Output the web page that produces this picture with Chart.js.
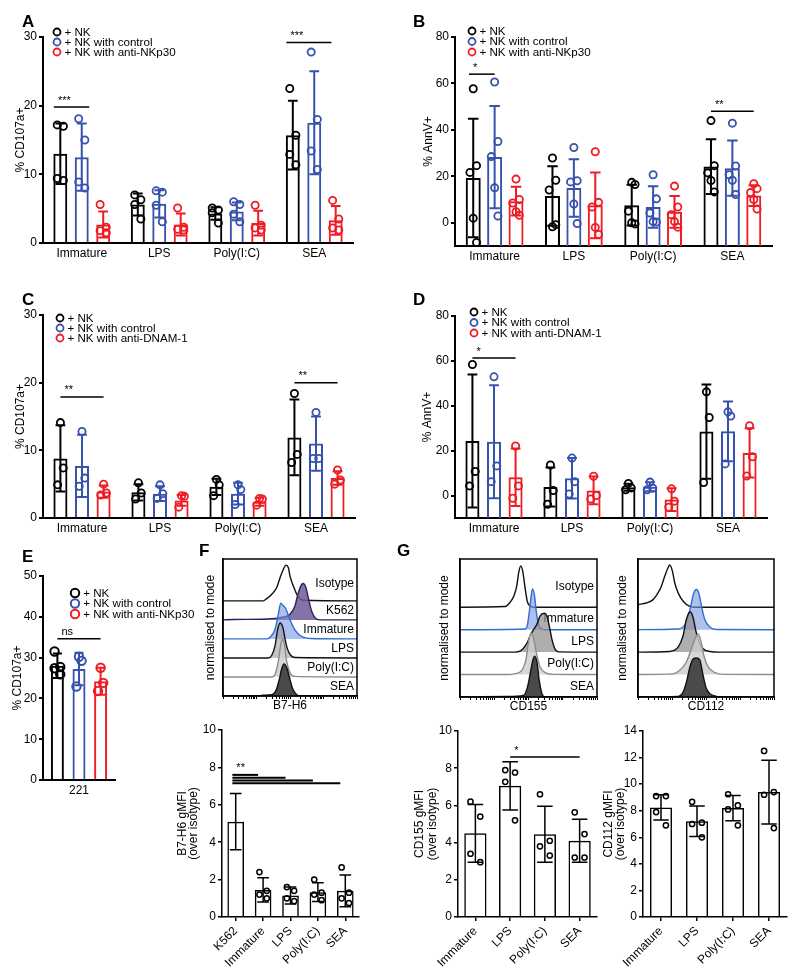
<!DOCTYPE html>
<html>
<head>
<meta charset="utf-8">
<script src="https://cdn.jsdelivr.net/npm/chart.js@4.4.1/dist/chart.umd.min.js"></script>
<style>
  body { margin: 0; background: #fff; }
  #fig { position: relative; width: 800px; height: 978px; overflow: hidden; font-family: "Liberation Sans", Arial, sans-serif; }
  #fig canvas { position: absolute; }
  .lbl { position: absolute; z-index: 2; font-weight: bold; font-size: 17px; line-height: 17px; }
</style>
</head>
<body>
<div id="fig">
  <canvas id="cA"></canvas>
  <canvas id="cB"></canvas>
  <canvas id="cC"></canvas>
  <canvas id="cD"></canvas>
  <canvas id="cE"></canvas>
  <canvas id="cFh"></canvas>
  <canvas id="cFb"></canvas>
  <canvas id="cG1h"></canvas>
  <canvas id="cG2h"></canvas>
  <canvas id="cG1b"></canvas>
  <canvas id="cG2b"></canvas>
  <div class="lbl" style="left:22px;top:13px">A</div>
  <div class="lbl" style="left:413px;top:13px">B</div>
  <div class="lbl" style="left:22px;top:291px">C</div>
  <div class="lbl" style="left:413px;top:291px">D</div>
  <div class="lbl" style="left:22px;top:548px">E</div>
  <div class="lbl" style="left:199px;top:542px">F</div>
  <div class="lbl" style="left:397px;top:542px">G</div>
</div>
<script>
// ---- data ----
const groups = ['Immature', 'LPS', 'Poly(I:C)', 'SEA'];
const nkp30Series = ['+ NK', '+ NK with control', '+ NK with anti-NKp30'];
const dnamSeries = ['+ NK', '+ NK with control', '+ NK with anti-DNAM-1'];
const seriesColors = ['#000000', '#3652ad', '#ee1c25'];

// A: % CD107a+ (anti-NKp30)
const aTicks = [0, 10, 20, 30];
const aMean = [[13.0, 5.6, 4.3, 15.7], [12.5, 5.7, 4.6, 17.5], [2.7, 2.7, 2.9, 3.3]];
const aSd = [[4.4, 1.6, 0.9, 5.0], [4.9, 2.0, 1.3, 7.5], [1.9, 1.6, 1.8, 2.1]];
const aPts = [
  [[17.2, 17.0, 9.4, 9.1], [7.0, 6.3, 5.6, 3.5], [5.1, 4.8, 4.4, 2.9], [22.5, 15.7, 12.9, 11.4]],
  [[18.1, 15.0, 8.9, 8.0], [7.6, 7.4, 5.5, 3.1], [6.0, 5.6, 4.2, 3.1], [27.8, 18.0, 13.4, 10.7]],
  [[5.6, 2.3, 1.8, 1.5], [5.1, 2.3, 2.0, 1.9], [5.5, 2.6, 2.2, 1.9], [6.2, 3.5, 2.2, 1.9]]
];
const aSig = [{ c1: 0, a1: -0.3, c2: 0, a2: 1.35, y: 19.8, text: '***' }, { c1: 3, a1: -0.3, c2: 3, a2: 1.8, y: 29.2, text: '***' }];

// B: % AnnV+ (anti-NKp30)
const bTicks = [0, 20, 40, 60, 80];
const bMean = [[19.3, 11.5, 7.6, 24.2], [28.3, 15.0, 6.8, 23.5], [9.3, 7.5, 4.7, 11.7]];
const bSd = [[25.5, 12.8, 8.8, 11.8], [22.0, 12.4, 8.9, 11.9], [6.2, 14.2, 6.8, 4.5]];
const bPts = [
  [[57.7, 24.6, 21.7, 2.0, -8.5], [27.9, 18.3, 14.1, -1.7, -0.8], [17.4, 16.5, 5.0, 0.0, -0.5], [44.0, 24.6, 21.5, 18.2, 13.3]],
  [[60.6, 35.0, 28.5, 15.1, 2.9], [32.4, 18.1, 17.6, 8.1, -0.3], [20.7, 10.3, 4.2, 0.5, 0.3], [42.9, 24.5, 20.7, 18.3, 12.2]],
  [[18.8, 10.0, 8.5, 4.8, 3.2], [30.6, 8.8, 6.8, -2.0, -5.0], [15.8, 6.8, 3.5, 0.5, -1.9], [16.8, 14.7, 13.0, 10.0, 5.9]]
];
const bSig = [{ c1: 0, a1: -0.2, c2: 0, a2: 1, y: 64, text: '*' }, { c1: 3, a1: 0, c2: 3, a2: 2, y: 48, text: '**' }];

// C: % CD107a+ (anti-DNAM-1)
const cTicks = [0, 10, 20, 30];
const cMean = [[8.8, 3.8, 4.6, 11.9], [7.7, 3.6, 3.6, 11.0], [3.9, 2.6, 2.4, 5.9]];
const cSd = [[4.9, 1.2, 1.2, 5.6], [4.6, 1.1, 1.6, 4.0], [0.9, 0.8, 0.6, 1.0]];
const cPts = [
  [[14.1, 7.4, 4.9], [5.2, 3.7, 2.8], [5.7, 4.9, 3.3], [18.4, 9.4, 8.2]],
  [[12.8, 5.9, 4.7], [4.9, 3.6, 2.9], [4.9, 4.2, 2.0], [15.6, 8.8, 8.8]],
  [[5.0, 3.7, 3.4], [3.3, 3.2, 1.6], [2.9, 2.8, 1.9], [7.1, 5.6, 5.0]]
];
const cSig = [{ c1: 0, a1: 0, c2: 0, a2: 2, y: 17.9, text: '**' }, { c1: 3, a1: 0, c2: 3, a2: 2, y: 20.0, text: '**' }];

// D: % AnnV+ (anti-DNAM-1)
const dTicks = [0, 20, 40, 60, 80];
const dMean = [[24.3, 3.8, 3.7, 28.5], [24.0, 7.7, 3.9, 28.6], [8.2, 2.3, -1.8, 19.0]];
const dSd = [[29.6, 8.7, 1.6, 21.0], [25.2, 9.0, 2.0, 13.3], [12.8, 6.2, 5.1, 11.0]];
const dPts = [
  [[58.4, 10.7, 4.3], [13.6, 2.2, -3.9], [5.4, 3.4, 2.6], [46.2, 34.8, 5.8]],
  [[52.9, 13.2, 6.2], [16.7, 6.2, 0.7], [6.0, 3.3, 2.6], [37.3, 35.4, 14.1]],
  [[22.1, 4.3, -1.2], [8.6, 0.0, -1.5], [3.0, -2.5, -5.2], [31.1, 17.3, 8.7]]
];
const dSig = [{ c1: 0, a1: 0, c2: 0, a2: 2, y: 61.3, text: '*' }];

// E: % CD107a+ on 221 cells
const eCats = ['221'];
const eTicks = [0, 10, 20, 30, 40, 50];
const eMean = [[28.0], [27.2], [24.2]];
const eSd = [[3.0], [4.0], [3.3]];
const ePts = [[[31.5, 27.7, 27.4, 25.9]], [[30.2, 29.2, 22.9]], [[27.5, 23.8, 21.8]]];
const eSig = [{ c1: 0, a1: 0, c2: 0, a2: 2, y: 34.6, text: 'ns' }];

// F: B7-H6 gMFI
const fCats = ['K562', 'Immature', 'LPS', 'Poly(I:C)', 'SEA'];
const fTicks = [0, 2, 4, 6, 8, 10];
const fMean = [5.1, 1.45, 1.15, 1.33, 1.4];
const fSd = [1.5, 0.65, 0.45, 0.5, 0.85];
const fPts = [[], [2.4, 1.4, 1.2, 1.0], [1.6, 1.4, 1.0, 0.85], [2.0, 1.3, 1.2, 0.9], [2.65, 1.3, 1.0, 0.75]];
const fSig = [
  { c1: 0, a1: -0.2, c2: 1, a2: -0.3, y: 7.6, text: '**' },
  { c1: 0, a1: -0.2, c2: 2, a2: -0.3, y: 7.45, text: '' },
  { c1: 0, a1: -0.2, c2: 3, a2: -0.3, y: 7.3, text: '' },
  { c1: 0, a1: -0.2, c2: 4, a2: -0.3, y: 7.15, text: '' }
];

// G: CD155 / CD112 gMFI
const gTicks155 = [0, 2, 4, 6, 8, 10];
const g155Mean = [4.5, 7.05, 4.45, 4.1];
const g155Sd = [1.55, 1.3, 1.5, 1.15];
const g155Pts = [[6.2, 5.4, 3.4, 2.95], [7.9, 7.77, 7.27, 5.2], [6.6, 4.1, 3.8, 3.3], [5.63, 4.46, 3.2, 3.2]];
const g155Sig = [{ c1: 1, a1: 0, c2: 3, a2: 0, y: 8.6, text: '*' }];
const gTicks112 = [0, 2, 4, 6, 8, 10, 12, 14];
const g112Mean = [8.25, 7.2, 8.2, 9.4];
const g112Sd = [0.95, 1.15, 0.95, 2.4];
const g112Pts = [[9.1, 9.1, 7.9, 6.9], [8.67, 7.1, 7.0, 6.0], [9.24, 8.4, 8.1, 6.9], [12.5, 9.4, 9.2, 6.69]];

// histograms: [x (% of axis), height above its lane]
const b7Names = ['Isotype', 'K562', 'Immature', 'LPS', 'Poly(I:C)', 'SEA'];
const b7Iso = [[0, 0], [30, 0], [32.7, 0.12], [36.4, 0.35], [40.1, 0.7], [42.6, 1.22], [45, 1.65], [47, 1.88], [48.8, 1.74], [50, 1.3], [52.5, 0.78], [55, 0.35], [57.4, 0.12], [60, 0.03], [100, 0]];
const b7K562 = [[0, 0], [8, 0.02], [32.7, 0.05], [42.6, 0.12], [50, 0.3], [53.7, 0.73], [56.2, 1.43], [58.7, 1.86], [59.9, 1.91], [61.9, 1.69], [63.6, 1.17], [66.1, 0.47], [68.6, 0.12], [72.3, 0], [100, 0]];
const b7Imm = [[0, 0], [32.7, 0], [35.1, 0.09], [38.9, 0.52], [41.3, 1.3], [43.1, 1.88], [45, 1.74], [47, 1.57], [48.8, 1.22], [52.5, 0.61], [56.2, 0.26], [59.9, 0.09], [64.9, 0.02], [100, 0]];
const b7Lps = [[0, 0], [33.9, 0], [36.4, 0.14], [38.9, 0.66], [40.6, 1.44], [42.6, 1.84], [44.6, 1.62], [46.3, 1.0], [48, 0.49], [50.5, 0.14], [53.7, 0.02], [100, 0]];
const b7Poly = [[0, 0], [36.4, 0], [38.9, 0.14], [41.3, 0.83], [43.1, 1.7], [44.3, 2.0], [45.8, 1.7], [47.5, 0.83], [50, 0.23], [53.7, 0.03], [100, 0]];
const b7Sea = [[0, 0], [25.2, 0], [30, 0.04], [36.4, 0.07], [39.6, 0.3], [42.1, 0.9], [43.8, 1.43], [45.5, 1.69], [47.5, 1.5], [49.5, 1.0], [52, 0.38], [55, 0.07], [57.4, 0], [100, 0]];

const gNames = ['Isotype', 'Immature', 'LPS', 'Poly(I:C)', 'SEA'];
const c155Iso = [[0, 0], [32.9, 0.03], [36.6, 0.22], [39.5, 0.52], [41.5, 0.97], [42.9, 1.57], [44.4, 1.84], [45.9, 1.57], [47.6, 0.82], [49.3, 0.22], [51.7, 0.03], [55, 0], [100, 0]];
const c155Imm = [[0, 0], [47.6, 0.03], [49.3, 0.25], [50.7, 0.85], [52, 1.52], [52.9, 1.82], [54.4, 1.52], [55.6, 0.85], [57.3, 0.25], [59.8, 0.03], [62, 0], [100, 0]];
const c155Lps = [[0, 0], [40, 0], [43.9, 0.04], [48.3, 0.34], [52.4, 0.87], [56.1, 1.24], [58.5, 1.61], [61.5, 1.73], [63.4, 1.61], [65.4, 1.09], [67.1, 0.57], [69.5, 0.12], [72, 0.01], [100, 0]];
const c155Poly = [[0, 0], [36, 0], [40.2, 0.04], [45.1, 0.19], [48.3, 0.72], [50, 1.46], [51.7, 1.84], [53.7, 1.61], [56.1, 0.87], [58.5, 0.34], [62.2, 0.09], [68.3, 0.01], [100, 0]];
const c155Sea = [[0, 0], [34.1, 0.02], [46.3, 0.07], [49.3, 0.45], [51.7, 1.19], [53.2, 1.64], [54.4, 1.82], [56.1, 1.57], [57.8, 0.75], [59.8, 0.15], [62.2, 0], [100, 0]];

const c112Iso = [[0, 0.12], [6.1, 0.19], [11.1, 0.34], [14.7, 0.64], [17.2, 0.94], [19.7, 1.39], [22.1, 1.76], [23.3, 1.88], [25.3, 1.61], [27, 1.09], [29.5, 0.64], [33.2, 0.27], [38.1, 0.04], [43, 0], [100, 0]];
const c112Imm = [[0, 0], [29.5, 0.03], [34.4, 0.22], [37.6, 0.75], [39.3, 1.19], [41, 1.64], [43, 1.79], [45, 1.57], [46.7, 1.04], [49.1, 0.45], [52.8, 0.12], [57.7, 0.01], [100, 0]];
const c112Lps = [[0, 0], [23.3, 0.03], [29.5, 0.22], [33.2, 0.74], [35.6, 1.47], [37.3, 1.74], [38.6, 1.79], [40.5, 1.54], [42.5, 0.96], [45, 0.44], [47.9, 0.15], [52.8, 0.03], [60, 0], [100, 0]];
const c112Poly = [[0, 0], [25.8, 0.03], [30.7, 0.19], [35.6, 0.56], [39.3, 1.15], [41.8, 1.59], [44.2, 1.81], [46.2, 1.51], [48.4, 0.85], [51.6, 0.34], [56.5, 0.09], [62.7, 0.01], [100, 0]];
const c112Sea = [[0, 0], [29.5, 0.03], [33.2, 0.22], [35.6, 0.66], [38.1, 1.32], [40.5, 1.69], [43, 1.74], [45.5, 1.65], [47.4, 1.1], [49.9, 0.44], [52.8, 0.15], [57.7, 0.03], [62, 0], [100, 0]];

// ---- drawing ----
const FONT = '"Liberation Sans", Arial, sans-serif';
Chart.defaults.font.family = FONT;
Chart.defaults.font.size = 12;
Chart.defaults.color = '#000';
Chart.defaults.animation = false;
Chart.defaults.responsive = false;
Chart.defaults.plugins.legend.display = false;
Chart.defaults.plugins.tooltip.enabled = false;

const jitter = { 3: [0, 0.2, -0.2], 4: [-0.22, 0.22, -0.22, 0.22], 5: [0, 0.22, -0.22, 0, 0.22] };

function place(id, area, m) {
  const cv = document.getElementById(id);
  cv.width = area[2] - area[0] + m.l + m.r;
  cv.height = area[3] - area[1] + m.t + m.b;
  cv.style.left = (area[0] - m.l) + 'px';
  cv.style.top = (area[1] - m.t) + 'px';
  return cv;
}

// error bars, dots, significance lines and the inline legend
function extras(o) {
  return {
    id: 'extras',
    afterDatasetsDraw(chart) {
      const ctx = chart.ctx, y = chart.scales.y, area = chart.chartArea;
      ctx.save();
      chart.data.datasets.forEach((ds, i) => {
        const meta = chart.getDatasetMeta(i);
        ctx.strokeStyle = ds.borderColor;
        meta.data.forEach((bar, j) => {
          const t = y.getPixelForValue(ds.data[j] + ds.sd[j]);
          const b = y.getPixelForValue(ds.data[j] - ds.sd[j]);
          const cw = bar.width * 0.35;
          ctx.lineWidth = o.ew;
          ctx.beginPath();
          ctx.moveTo(bar.x, t); ctx.lineTo(bar.x, b);
          ctx.moveTo(bar.x - cw, t); ctx.lineTo(bar.x + cw, t);
          ctx.moveTo(bar.x - cw, b); ctx.lineTo(bar.x + cw, b);
          ctx.stroke();
          const pts = ds.pts[j] || [];
          const jit = jitter[pts.length] || [0];
          ctx.lineWidth = o.plw;
          pts.forEach((p, k) => {
            ctx.beginPath();
            ctx.arc(bar.x + jit[k % jit.length] * bar.width, y.getPixelForValue(p), o.r, 0, 2 * Math.PI);
            ctx.stroke();
          });
        });
      });

      const m0 = chart.getDatasetMeta(0).data;
      const m1 = chart.data.datasets.length > 1 ? chart.getDatasetMeta(1).data : null;
      const px = (c, a) => m0[c].x + a * (m1 ? m1[c].x - m0[c].x : m0[c].width);
      ctx.strokeStyle = '#000';
      ctx.fillStyle = '#000';
      ctx.font = '11px ' + FONT;
      ctx.textAlign = 'left';
      ctx.textBaseline = 'bottom';
      (o.sig || []).forEach(s => {
        const x1 = px(s.c1, s.a1), x2 = px(s.c2, s.a2), yy = y.getPixelForValue(s.y);
        ctx.lineWidth = o.slw || 1.5;
        ctx.beginPath(); ctx.moveTo(x1, yy); ctx.lineTo(x2, yy); ctx.stroke();
        if (s.text) ctx.fillText(s.text, x1 + 4, yy - 1);
      });

      if (o.legend) {
        const L = o.legend;
        ctx.textBaseline = 'middle';
        ctx.font = '11.6px ' + FONT;
        chart.data.datasets.forEach((ds, i) => {
          const cx = area.left + L.dx, cy = area.top + L.dy + i * L.gap;
          ctx.strokeStyle = ds.borderColor;
          ctx.lineWidth = L.lw;
          ctx.beginPath(); ctx.arc(cx, cy, L.r, 0, 2 * Math.PI); ctx.stroke();
          ctx.fillStyle = '#000';
          ctx.fillText(ds.label, cx + L.r + 4, cy + 0.5);
        });
      }
      ctx.restore();
    }
  };
}

function barChart(id, area, m, o) {
  const cv = place(id, area, m);
  const lh = 12 * (o.tLh || 1.2);
  const tPad = Math.max(0, o.titleX - (area[0] - m.l) - lh / 2);
  const datasets = o.means.map((vals, i) => ({
    label: o.series ? o.series[i] : '',
    data: vals,
    sd: o.sds[i],
    pts: o.pts[i],
    borderColor: o.colors[i],
    backgroundColor: 'rgba(0,0,0,0)',
    borderWidth: o.bw,
    base: o.min,
    categoryPercentage: o.catPct,
    barPercentage: o.barPct
  }));
  new Chart(cv, {
    type: 'bar',
    data: { labels: o.cats, datasets },
    options: {
      layout: { padding: { top: m.t, right: m.r, left: 0, bottom: 0 } },
      scales: {
        x: {
          afterFit: s => { s.height = m.b; },
          grid: { display: !!o.xTicks, drawOnChartArea: false, drawTicks: !!o.xTicks, tickLength: 4, offset: false, color: '#000', lineWidth: o.aw },
          border: { color: '#000', width: o.aw },
          ticks: { padding: 3, minRotation: o.rot || 0, maxRotation: o.rot || 0, autoSkip: false }
        },
        y: {
          min: o.min,
          max: o.max,
          afterFit: s => { s.width = m.l; },
          afterBuildTicks: s => { s.ticks = o.ticks.map(v => ({ value: v })); },
          grid: { drawOnChartArea: false, drawTicks: true, tickLength: 4, color: '#000', lineWidth: o.aw },
          border: { color: '#000', width: o.aw },
          ticks: { padding: 2 },
          title: { display: true, text: o.title, padding: { top: tPad, bottom: 0 }, font: { size: 12, lineHeight: o.tLh || 1.2 } }
        }
      }
    },
    plugins: [extras(o)]
  });
}

function logTicks(s) {
  const t = [];
  for (let d = 0; d < 4; d++) for (let k = 1; k < 10; k++) t.push({ value: d * 25 + 25 * Math.log10(k) });
  t.push({ value: 100 });
  s.ticks = t;
}

function histChart(id, area, m, o) {
  const cv = place(id, area, m);
  const n = o.curves.length;
  const datasets = o.curves.map((c, i) => {
    const base = n - 1 - i;
    return {
      data: c.map(p => ({ x: p[0], y: base + p[1] })),
      borderColor: o.lines[i],
      borderWidth: 1.4,
      backgroundColor: o.fills[i] || 'rgba(0,0,0,0)',
      fill: o.fills[i] ? { value: base } : false,
      pointRadius: 0,
      tension: 0.3,
      cubicInterpolationMode: 'monotone',
      order: base
    };
  });
  new Chart(cv, {
    type: 'line',
    data: { datasets },
    options: {
      layout: { padding: { top: m.t, right: m.r, left: 0, bottom: 0 } },
      scales: {
        x: {
          type: 'linear', min: 0, max: 100,
          afterFit: s => { s.height = m.b; },
          afterBuildTicks: logTicks,
          ticks: { display: false },
          grid: { drawOnChartArea: false, drawTicks: true, tickLength: 3, color: '#000', lineWidth: 1 },
          border: { color: '#000', width: 1.5 },
          title: { display: true, text: o.xTitle, padding: 0, font: { size: 12, lineHeight: 1 } }
        },
        y: {
          min: 0, max: o.yMax,
          afterFit: s => { s.width = m.l; },
          ticks: { display: false },
          grid: { display: false },
          border: { color: '#000', width: 1.5 },
          title: { display: true, text: 'normalised to mode', padding: 0, font: { size: 12, lineHeight: 1 } }
        }
      }
    },
    plugins: [{
      id: 'histBox',
      beforeDatasetsDraw(chart) {
        if (!o.names) return;
        const ctx = chart.ctx, y = chart.scales.y, a = chart.chartArea;
        ctx.save();
        ctx.font = '12px ' + FONT;
        ctx.fillStyle = '#000';
        ctx.textAlign = 'right';
        ctx.textBaseline = 'middle';
        o.names.forEach((t, i) => {
          const base = n - 1 - i;
          ctx.fillText(t, a.right - 3, y.getPixelForValue(base + (i === 0 ? 0.92 : 0.48)));
        });
        ctx.restore();
      },
      afterDatasetsDraw(chart) {
        const ctx = chart.ctx, a = chart.chartArea;
        ctx.save();
        ctx.strokeStyle = '#000';
        ctx.lineWidth = 1.5;
        ctx.strokeRect(a.left, a.top, a.right - a.left, a.bottom - a.top);
        ctx.restore();
      }
    }]
  });
}

const groupStyle = { colors: seriesColors, bw: 2, aw: 2, ew: 2, plw: 1.8, r: 3.6 };

barChart('cA', [43, 37, 353, 243], { l: 43, t: 12, r: 8, b: 22 }, Object.assign({}, groupStyle, {
  cats: groups, series: nkp30Series, means: aMean, sds: aSd, pts: aPts, sig: aSig,
  min: 0, max: 30, ticks: aTicks, title: '% CD107a+', titleX: 21, catPct: 0.83, barPct: 0.65,
  legend: { dx: 14, dy: -5, gap: 10, r: 3.5, lw: 1.8 }
}));
barChart('cB', [455, 37, 772, 246], { l: 42, t: 12, r: 8, b: 22 }, Object.assign({}, groupStyle, {
  cats: groups, series: nkp30Series, means: bMean, sds: bSd, pts: bPts, sig: bSig,
  min: -10, max: 80, ticks: bTicks, title: '% AnnV+', titleX: 429, catPct: 0.81, barPct: 0.7,
  legend: { dx: 17, dy: -6, gap: 10.5, r: 3.5, lw: 1.8 }
}));
barChart('cC', [43, 315, 355, 518], { l: 43, t: 12, r: 8, b: 22 }, Object.assign({}, groupStyle, {
  cats: groups, series: dnamSeries, means: cMean, sds: cSd, pts: cPts, sig: cSig,
  min: 0, max: 30, ticks: cTicks, title: '% CD107a+', titleX: 21, catPct: 0.83, barPct: 0.65,
  legend: { dx: 17, dy: 3, gap: 10, r: 3.5, lw: 1.8 }
}));
barChart('cD', [455, 316, 767, 518], { l: 42, t: 12, r: 8, b: 22 }, Object.assign({}, groupStyle, {
  cats: groups, series: dnamSeries, means: dMean, sds: dSd, pts: dPts, sig: dSig,
  min: -10, max: 80, ticks: dTicks, title: '% AnnV+', titleX: 428, catPct: 0.83, barPct: 0.65,
  legend: { dx: 19, dy: -4, gap: 10.5, r: 3.5, lw: 1.8 }
}));
barChart('cE', [43, 576, 115, 780], { l: 43, t: 12, r: 85, b: 22 }, Object.assign({}, groupStyle, {
  cats: eCats, series: nkp30Series, means: eMean, sds: eSd, pts: ePts, sig: eSig, r: 4.2, plw: 2,
  min: 0, max: 50, ticks: eTicks, title: '% CD107a+', titleX: 18, catPct: 0.9, barPct: 0.6,
  legend: { dx: 32, dy: 17, gap: 10.5, r: 4.2, lw: 2 }
}));

const singleStyle = { colors: ['#000000'], bw: 1.5, aw: 1.5, ew: 1.5, plw: 1.5, r: 2.6, xTicks: true, rot: 45, tLh: 1 };

barChart('cFb', [222, 730, 359, 917], { l: 45, t: 10, r: 6, b: 58 }, Object.assign({}, singleStyle, {
  cats: fCats, means: [fMean], sds: [fSd], pts: [fPts], sig: fSig, slw: 2,
  min: 0, max: 10, ticks: fTicks, title: ['B7-H6 gMFI', '(over isotype)'], titleX: 183, tLh: 0.85,
  catPct: 0.8, barPct: 0.76
}));
barChart('cG1b', [458, 731, 597, 917], { l: 45, t: 10, r: 6, b: 58 }, Object.assign({}, singleStyle, {
  cats: groups, means: [g155Mean], sds: [g155Sd], pts: [g155Pts], sig: g155Sig,
  min: 0, max: 10, ticks: gTicks155, title: ['CD155 gMFI', '(over isotype)'], titleX: 419.5, tLh: 1.08,
  catPct: 0.8, barPct: 0.8
}));
barChart('cG2b', [643, 731, 787, 917], { l: 40, t: 10, r: 8, b: 58 }, Object.assign({}, singleStyle, {
  cats: groups, means: [g112Mean], sds: [g112Sd], pts: [g112Pts],
  min: 0, max: 14, ticks: gTicks112, title: ['CD112 gMFI', '(over isotype)'], titleX: 609, tLh: 1,
  catPct: 0.8, barPct: 0.77
}));

histChart('cFh', [223, 559, 357, 696], { l: 18, t: 2, r: 4, b: 16 }, {
  curves: [b7Iso, b7K562, b7Imm, b7Lps, b7Poly, b7Sea],
  lines: ['#111111', '#2e1f5e', '#2f6fcf', '#111111', '#8c8c8c', '#111111'],
  fills: [null, 'rgba(110,92,150,0.85)', 'rgba(120,150,225,0.6)', 'rgba(150,150,150,0.55)', 'rgba(205,205,205,0.8)', '#4a4a4a'],
  names: b7Names, xTitle: 'B7-H6', yMax: 7.2
});
histChart('cG1h', [460, 559, 597, 697], { l: 21, t: 2, r: 4, b: 16 }, {
  curves: [c155Iso, c155Imm, c155Lps, c155Poly, c155Sea],
  lines: ['#111111', '#2f6fcf', '#111111', '#8c8c8c', '#111111'],
  fills: [null, 'rgba(120,150,225,0.6)', 'rgba(140,140,140,0.7)', 'rgba(205,205,205,0.8)', '#4a4a4a'],
  names: gNames, xTitle: 'CD155', yMax: 6.15
});
histChart('cG2h', [638, 559, 774, 697], { l: 21, t: 2, r: 4, b: 16 }, {
  curves: [c112Iso, c112Imm, c112Lps, c112Poly, c112Sea],
  lines: ['#111111', '#2f6fcf', '#111111', '#8c8c8c', '#111111'],
  fills: [null, 'rgba(120,150,225,0.6)', 'rgba(140,140,140,0.7)', 'rgba(205,205,205,0.8)', '#4a4a4a'],
  names: null, xTitle: 'CD112', yMax: 6.15
});
</script>
</body>
</html>
